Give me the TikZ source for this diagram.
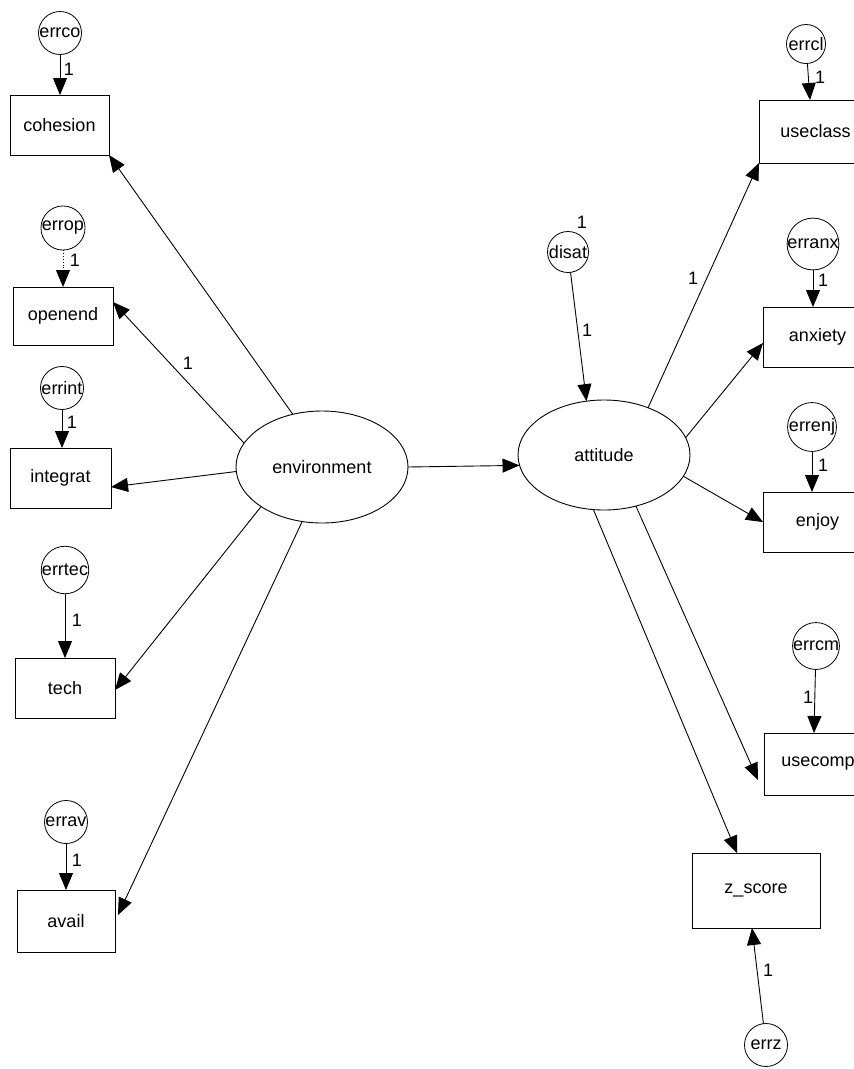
\documentclass[tikz,border=0pt]{standalone}
\usepackage{fontspec}
\setmainfont{Liberation Sans}
\usetikzlibrary{arrows.meta,shapes.geometric}
\begin{document}
\begin{tikzpicture}[x=1pt,y=-1pt,
  font=\fontsize{18}{21}\selectfont,
  obs/.style={draw, line width=1pt, inner sep=0pt, outer sep=0pt},
  lat/.style={draw, ellipse, line width=0.9pt, minimum width=172pt,
              minimum height=112pt, inner sep=0pt, outer sep=0pt},
  err/.style={draw, circle, line width=0.8pt, minimum size=43pt,
              inner sep=0pt, outer sep=0pt},
  reg/.style={line width=0.9pt, -{Triangle[length=17pt,width=14pt]}},
  one/.style={inner sep=0pt}
]
\useasboundingbox (0,0) rectangle (854,1069);
\fill[white] (0,0) rectangle (854,1069);
\clip (0,0) rectangle (854,1069);

% latent variables
\node[lat] (env) at (322,467) {environment};
\node[lat, minimum height=110pt] (att) at (604,455) {attitude};

% indicators of environment
\node[obs, minimum width=99pt,  minimum height=60pt] (cohesion) at (59.5,125) {cohesion};
\node[obs, minimum width=100pt, minimum height=58pt] (openend)  at (63,316)   {openend};
\node[obs, minimum width=101pt, minimum height=60pt] (integrat) at (60.5,478) {integrat};
\node[obs, minimum width=100pt, minimum height=60pt] (tech)     at (65,688)   {tech};
\node[obs, minimum width=98pt,  minimum height=62pt] (avail)    at (66,921)   {avail};

% indicators of attitude (right column runs past the page edge)
\node[obs, minimum width=113pt, minimum height=63pt] (useclass) at (815.5,131.5) {useclass};
\node[obs, minimum width=109pt, minimum height=60pt] (anxiety)  at (817.5,337)   {anxiety};
\node[obs, minimum width=109pt, minimum height=60pt] (enjoy)    at (817.5,522)   {enjoy};
\node[obs, minimum width=108pt, minimum height=62pt] (usecomp)  at (818,764)     {usecomp};
\node[obs, minimum width=128pt, minimum height=75pt] (zscore)   at (756,890.5)   {z\_score};

% error terms
\node[err] (errco)  at (60,33)   {errco};
\node[err] (errop)  at (63,228)  {errop};
\node[err] (errint) at (62,388)  {errint};
\node[err] (errtec) at (65,570)  {errtec};
\node[err] (errav)  at (66,822)  {errav};
\node[err, minimum size=41pt] (disat) at (568,252) {disat};
\node[err, minimum size=39pt] (errcl) at (806,44) {errcl};
\node[err] (erranx) at (813,244) {erranx};
\node[err] (errenj) at (812,427) {errenj};
\node[err] (errcm)  at (816,646) {errcm};
\node[err] (errz)   at (766,1045) {errz};

% structural paths
\draw[reg] (env.0)   -- (att.187);
\draw[reg] (env.119) -- (cohesion.south east);
\draw[reg] (env.163) -- ([yshift=14pt]openend.east);
\draw[reg] (env.183) -- ([yshift=-9pt]integrat.east);
\draw[reg] (env.213) -- ([yshift=-2pt]tech.east);
\draw[reg] (env.250) -- ([xshift=3pt,yshift=6pt]avail.east);

\draw[reg] (att.47)  -- (useclass.south west);
\draw[reg] (att.12)  -- ([yshift=-6pt]anxiety.west);
\draw[reg] (att.-15) -- (enjoy.west);
\draw[reg] (att.-58) -- ([xshift=-6pt,yshift=-16pt]usecomp.west);
\draw[reg] (att.259) -- ([xshift=-19pt]zscore.north);
\draw[reg] (disat)   -- (att.108);

% error paths
\draw[reg] (errco)  -- (errco |- cohesion.north);
\draw[reg, dotted] (errop) -- (errop |- openend.north);
\draw[reg] (errint) -- (errint |- integrat.north);
\draw[reg] (errtec) -- (errtec |- tech.north);
\draw[reg] (errav)  -- (errav |- avail.north);
\draw[reg] (errcl)  -- ([xshift=4pt]errcl |- useclass.north);
\draw[reg] (erranx) -- (erranx |- anxiety.north);
\draw[reg] (errenj) -- (errenj |- enjoy.north);
\draw[reg] (errcm)  -- ([xshift=-2pt]errcm |- usecomp.north);
\draw[reg] (errz)   -- ([xshift=-4pt]zscore.south);

% fixed coefficients
\node[one] (l1)  at (69,69)   {1};
\node[one] (l2)  at (75,260)  {1};
\node[one] (l3)  at (188,363) {1};
\node[one] (l4)  at (72,422)  {1};
\node[one] (l5)  at (77,620)  {1};
\node[one] (l6)  at (77,860)  {1};
\node[one] (l7)  at (582,222) {1};
\node[one] (l8)  at (587,330) {1};
\node[one] (l9)  at (693,278) {1};
\node[one] (l10) at (820,77)  {1};
\node[one] (l11) at (823,280) {1};
\node[one] (l12) at (823,465) {1};
\node[one] (l13) at (808,697) {1};
\node[one] (l14) at (768,970) {1};
\end{tikzpicture}
\end{document}
